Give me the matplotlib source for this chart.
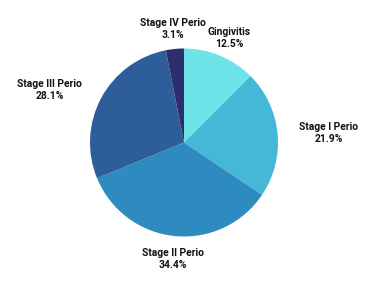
import matplotlib
matplotlib.use("Agg")
import matplotlib.pyplot as plt

labels = ["Gingivitis", "Stage I Perio", "Stage II Perio", "Stage III Perio", "Stage IV Perio"]
shares = [12.5, 21.9, 34.4, 28.1, 3.1]
colors = ["#6ee3e8", "#44b8d6", "#2e8bc0", "#2e5e99", "#2c2f6b"]

# label centres in pixels of the 375x288 picture
label_px = [(229, 38), (328.5, 132.5), (173, 258.5), (49.5, 90), (172.5, 29.5)]

cx, cy, r = 184, 142.5, 94

fig = plt.figure(figsize=(3.75, 2.88), dpi=100)
ax = fig.add_axes([0, 0, 1, 1])

wedges, _ = ax.pie(shares, colors=colors, startangle=90, counterclock=False,
                   radius=1.0, wedgeprops=dict(linewidth=0))

for lab, s, (px, py) in zip(labels, shares, label_px):
    ax.text((px - cx) / r, (cy - py) / r, f"{lab}\n{s}%",
            ha="center", va="center", fontsize=7.4, fontweight="bold",
            family="Roboto", linespacing=1.25, color="#111111")

ax.set_xlim(-cx / r, (375 - cx) / r)
ax.set_ylim(-(288 - cy) / r, cy / r)
ax.set_aspect("auto")
ax.axis("off")

fig.savefig("out.png", dpi=100)
